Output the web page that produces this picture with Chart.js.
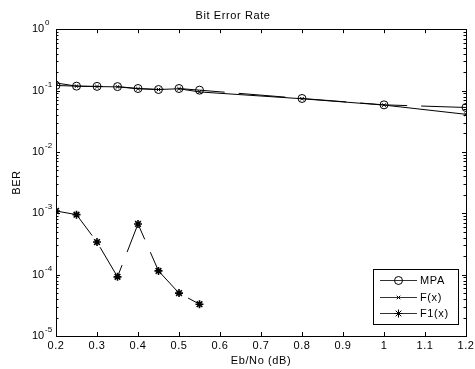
<!DOCTYPE html>
<html>
<head>
<meta charset="utf-8">
<script src="https://cdn.jsdelivr.net/npm/chart.js@4.4.1/dist/chart.umd.min.js"></script>
<style>
  html, body { margin: 0; padding: 0; background: #fff; }
  #wrap { width: 475px; height: 369px; }
</style>
</head>
<body>
<div id="wrap"><canvas id="berChart" width="475" height="369"></canvas></div>
<script>
// values
const ebNo = [0.2, 0.25, 0.3, 0.35, 0.4, 0.45, 0.5, 0.55, 0.8, 1.0, 1.2];
const ebNoF1 = [0.2, 0.25, 0.3, 0.35, 0.4, 0.45, 0.5, 0.55];
const berMPA = [0.121, 0.118, 0.117, 0.116, 0.108, 0.104, 0.108, 0.1015, 0.0743, 0.0585, 0.053];
const berF = [0.133, 0.118, 0.116, 0.115, 0.107, 0.104, 0.107, 0.095, 0.0735, 0.058, 0.041];
const berF1 = [1.09e-3, 9.5e-4, 3.4e-4, 9.2e-5, 6.7e-4, 1.15e-4, 5.0e-5, 3.3e-5];
const xTicks = [0.2, 0.3, 0.4, 0.5, 0.6, 0.7, 0.8, 0.9, 1.0, 1.1, 1.2];
const yDecades = [0, -1, -2, -3, -4, -5];

const FONT = '"Liberation Sans", Arial, sans-serif';

function toPoints(xs, ys) {
    return xs.map((x, i) => ({ x: x, y: ys[i] }));
}

// matlab text is a bit wider spaced
const spacing = {
    id: 'spacing',
    beforeDraw(chart) { chart.ctx.letterSpacing = '0.6px'; }
};

// box, inward ticks, y labels with exponents, legend
const matlabAxes = {
    id: 'matlabAxes',
    afterDraw(chart) {
        const ctx = chart.ctx;
        const a = chart.chartArea;
        const xs = chart.scales.x;
        const ys = chart.scales.y;
        ctx.save();
        ctx.letterSpacing = '0px';
        ctx.strokeStyle = '#000';
        ctx.lineWidth = 1;
        ctx.strokeRect(Math.round(a.left) + 0.5, Math.round(a.top) + 0.5,
            Math.round(a.right - a.left), Math.round(a.bottom - a.top));

        ctx.beginPath();
        xTicks.forEach(v => {
            const px = Math.round(xs.getPixelForValue(v)) + 0.5;
            ctx.moveTo(px, a.bottom); ctx.lineTo(px, a.bottom - 4);
            ctx.moveTo(px, a.top); ctx.lineTo(px, a.top + 4);
        });
        yDecades.forEach(e => {
            for (let m = 1; m <= 9; m++) {
                const v = m * Math.pow(10, e);
                if (v > 1.0001 || (e === 0 && m > 1)) continue;
                const py = Math.round(ys.getPixelForValue(v)) + 0.5;
                const len = m === 1 ? 4 : 2.5;
                ctx.moveTo(a.left, py); ctx.lineTo(a.left + len, py);
                ctx.moveTo(a.right, py); ctx.lineTo(a.right - len, py);
            }
        });
        ctx.stroke();

        // y tick labels 10^e
        ctx.fillStyle = '#000';
        ctx.textBaseline = 'middle';
        ctx.textAlign = 'left';
        yDecades.forEach(e => {
            const py = ys.getPixelForValue(Math.pow(10, e));
            ctx.font = '11px ' + FONT;
            ctx.fillText('10', 32, py);
            ctx.font = '8px ' + FONT;
            ctx.fillText(String(e), 45, py - 6);
        });

        // legend
        const lx = 373, ly = 269, lw = 85, lh = 55;
        ctx.fillStyle = '#fff';
        ctx.fillRect(lx, ly, lw, lh);
        ctx.strokeStyle = '#000';
        ctx.strokeRect(lx + 0.5, ly + 0.5, lw, lh);
        chart.data.datasets.forEach((ds, i) => {
            const ry = Math.round(ly + 11 + i * 16.5) + 0.5;
            ctx.strokeStyle = '#333';
            ctx.lineWidth = 1;
            ctx.setLineDash([]);
            ctx.beginPath();
            ctx.moveTo(380, ry); ctx.lineTo(417, ry);
            ctx.stroke();
            ctx.strokeStyle = '#000';
            ctx.fillStyle = ds.pointBackgroundColor || 'transparent';
            Chart.helpers.drawPoint(ctx, {
                pointStyle: ds.pointStyle, radius: ds.pointRadius,
                rotation: 0, borderWidth: 1
            }, 398.5, ry);
            ctx.fillStyle = '#000';
            ctx.font = '11px ' + FONT;
            ctx.letterSpacing = '0.6px';
            ctx.textBaseline = 'middle';
            ctx.fillText(ds.label, 420, ry);
            ctx.letterSpacing = '0px';
        });
        ctx.restore();
    }
};

const ctxBer = document.getElementById('berChart').getContext('2d');
const berChart = new Chart(ctxBer, {
    type: 'line',
    data: {
        datasets: [{
            label: 'MPA',
            data: toPoints(ebNo, berMPA),
            borderColor: '#000',
            borderWidth: 1,
            borderDash: [47, 14],
            pointStyle: 'circle',
            pointRadius: 4,
            pointBorderColor: '#000',
            pointBackgroundColor: 'rgba(0,0,0,0)',
            pointBorderWidth: 1
        }, {
            label: 'F(x)',
            data: toPoints(ebNo, berF),
            borderColor: '#000',
            borderWidth: 1,
            pointStyle: 'crossRot',
            pointRadius: 2.5,
            pointBorderColor: '#000',
            pointBorderWidth: 1
        }, {
            label: 'F1(x)',
            data: toPoints(ebNoF1, berF1),
            borderColor: '#000',
            borderWidth: 1,
            borderDash: [47, 14],
            pointStyle: 'star',
            pointRadius: 4,
            pointBorderColor: '#000',
            pointBorderWidth: 1.6
        }]
    },
    options: {
        responsive: false,
        animation: false,
        layout: { padding: { right: 9, left: 0, top: 0, bottom: 0 } },
        plugins: {
            legend: { display: false },
            tooltip: { enabled: false },
            title: {
                display: true,
                text: 'Bit Error Rate',
                color: '#000',
                font: { family: FONT, size: 11, weight: 'normal' },
                padding: { top: 9, bottom: 7 }
            }
        },
        scales: {
            x: {
                type: 'linear',
                min: 0.2,
                max: 1.2,
                afterBuildTicks(scale) {
                    scale.ticks = xTicks.map(v => ({ value: v }));
                },
                afterFit(scale) {
                    scale.height = 33;
                    scale.paddingLeft = 0;
                    scale.paddingRight = 0;
                },
                grid: { display: false, drawTicks: false, tickLength: 0 },
                border: { display: false },
                ticks: {
                    color: '#000',
                    padding: 3,
                    maxRotation: 0,
                    font: { family: FONT, size: 11 },
                    callback: v => String(Number(v.toFixed(1)))
                },
                title: {
                    display: true,
                    text: 'Eb/No (dB)',
                    color: '#000',
                    font: { family: FONT, size: 11 },
                    padding: { top: 0, bottom: 1 }
                }
            },
            y: {
                type: 'logarithmic',
                min: 1e-5,
                max: 1,
                afterFit(scale) { scale.width = 56; },
                grid: { display: false },
                border: { display: false },
                ticks: { display: false },
                title: {
                    display: true,
                    text: 'BER',
                    color: '#000',
                    font: { family: FONT, size: 11 },
                    padding: { top: 10, bottom: 0 }
                }
            }
        }
    },
    plugins: [spacing, matlabAxes]
});
</script>
</body>
</html>
